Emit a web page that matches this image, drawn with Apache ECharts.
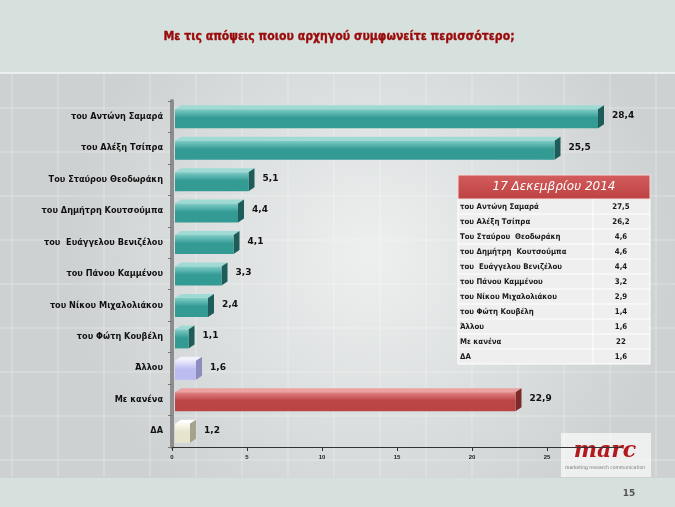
<!DOCTYPE html>
<html>
<head>
<meta charset="utf-8">
<script src="https://cdn.jsdelivr.net/npm/echarts@6/dist/echarts.min.js"></script>
<style>
  html, body { margin: 0; padding: 0; }
  #chart { width: 675px; height: 507px; }
</style>
</head>
<body>
<div id="chart"></div>
<script>
// κατηγορίες και τιμές (γράφημα)
var leaders = ['του Αντώνη Σαμαρά', 'του Αλέξη Τσίπρα', 'Του Σταύρου Θεοδωράκη', 'του Δημήτρη Κουτσούμπα',
  'του  Ευάγγελου Βενιζέλου', 'του Πάνου Καμμένου', 'του Νίκου Μιχαλολιάκου', 'του Φώτη Κουβέλη',
  'Άλλου', 'Με κανένα', 'ΔΑ'];
var values = [28.4, 25.5, 5.1, 4.4, 4.1, 3.3, 2.4, 1.1, 1.6, 22.9, 1.2];
var xTicks = [0, 5, 10, 15, 20, 25];

// πίνακας 17 Δεκεμβρίου 2014
var tableTitle = '17 Δεκεμβρίου 2014';
var tableLabels = ['του Αντώνη Σαμαρά', 'του Αλέξη Τσίπρα', 'Του Σταύρου  Θεοδωράκη', 'του Δημήτρη  Κουτσούμπα',
  'του  Ευάγγελου Βενιζέλου', 'του Πάνου Καμμένου', 'του Νίκου Μιχαλολιάκου', 'του Φώτη Κουβέλη',
  'Άλλου', 'Με κανένα', 'ΔΑ'];
var tableValues = ['27,5', '26,2', '4,6', '4,6', '4,4', '3,2', '2,9', '1,4', '1,6', '22', '1,6'];

var titleText = 'Με τις απόψεις ποιου αρχηγού συμφωνείτε περισσότερο;';

// χρώματα ανά μπάρα: [πάνω, κάτω, οροφή, πλάι]
var teal = ['#80cdc7', '#339a94', '#a0dad5', '#1d5c59'];
var barStyles = [teal, teal, teal, teal, teal, teal, teal, teal,
  ['#e8e8fe', '#bcbcf0', '#f2f2ff', '#8c8cbf'],
  ['#e28282', '#bb4545', '#eca2a2', '#7e2a2a'],
  ['#fbfaf0', '#e6e4cc', '#ffffff', '#a5a38c']];

var chart = echarts.init(document.getElementById('chart'));

var seriesData = values.map(function (v, i) { return [v, i]; });

function renderBar(params, api) {
  var idx = api.value(1);
  var v = api.value(0);
  var p0 = api.coord([0, idx]);
  var p1 = api.coord([v, idx]);
  var h = 19, dx = 6, dy = 4;
  var x = p0[0] + 3;
  var w = p1[0] - x;
  var y = p0[1] - h / 2 + 2;
  var c = barStyles[idx];
  return {
    type: 'group',
    children: [
      {
        type: 'polygon',
        shape: { points: [[x, y], [x + dx, y - dy], [x + w + dx, y - dy], [x + w, y]] },
        style: { fill: c[2] }
      },
      {
        type: 'polygon',
        shape: { points: [[x + w, y], [x + w + dx, y - dy], [x + w + dx, y + h - dy], [x + w, y + h]] },
        style: { fill: c[3] }
      },
      {
        type: 'rect',
        shape: { x: x, y: y, width: w, height: h },
        style: {
          fill: new echarts.graphic.LinearGradient(0, 0, 0, 1, [
            { offset: 0, color: c[0] },
            { offset: 0.45, color: c[1] },
            { offset: 1, color: c[1] }
          ])
        }
      },
      {
        type: 'text',
        style: {
          x: x + w + dx + 8, y: p0[1] - 1,
          text: String(v).replace('.', ','),
          fontFamily: 'DejaVu Sans', fontWeight: 'bold', fontSize: 9,
          fill: '#111', verticalAlign: 'middle'
        }
      }
    ]
  };
}

// πίνακας ως γραφικά
var tx = 458, tw = 192, colX = 593, headTop = 175, headH = 24, rowH = 15;
var tableGraphics = [
  {
    type: 'rect', z: 5,
    shape: { x: tx, y: headTop + headH, width: tw, height: rowH * tableLabels.length },
    style: { fill: '#efefef', stroke: '#ffffff', lineWidth: 1 }
  },
  {
    type: 'rect', z: 6,
    shape: { x: tx, y: headTop, width: tw, height: headH },
    style: {
      fill: new echarts.graphic.LinearGradient(0, 0, 0, 1, [
        { offset: 0, color: '#d35d5d' }, { offset: 1, color: '#bd4142' }
      ]),
      stroke: '#f2dede', lineWidth: 1
    }
  },
  {
    type: 'text', z: 7,
    style: {
      x: tx + tw / 2, y: headTop + headH / 2, text: tableTitle,
      fontFamily: 'DejaVu Sans', fontStyle: 'italic', fontSize: 12, fill: '#ffffff',
      align: 'center', verticalAlign: 'middle'
    }
  },
  {
    type: 'line', z: 7,
    shape: { x1: colX, y1: headTop + headH, x2: colX, y2: headTop + headH + rowH * tableLabels.length },
    style: { stroke: '#ffffff', lineWidth: 1 }
  }
];
tableLabels.forEach(function (lab, i) {
  var ry = headTop + headH + rowH * i;
  if (i > 0) {
    tableGraphics.push({
      type: 'line', z: 7,
      shape: { x1: tx, y1: ry, x2: tx + tw, y2: ry },
      style: { stroke: '#ffffff', lineWidth: 1 }
    });
  }
  tableGraphics.push({
    type: 'text', z: 8,
    style: {
      x: tx + 2, y: ry + rowH / 2, text: lab,
      fontFamily: 'DejaVu Sans Condensed, DejaVu Sans', fontWeight: 'bold', fontSize: 7.8,
      fill: '#1a1a1a', verticalAlign: 'middle'
    }
  });
  tableGraphics.push({
    type: 'text', z: 8,
    style: {
      x: 621, y: ry + rowH / 2, text: tableValues[i],
      fontFamily: 'DejaVu Sans Condensed, DejaVu Sans', fontWeight: 'bold', fontSize: 7.8,
      fill: '#1a1a1a', align: 'center', verticalAlign: 'middle'
    }
  });
});

// φόντο
var bgGraphics = [
  { type: 'rect', z: -10, shape: { x: 0, y: 0, width: 675, height: 507 }, style: { fill: '#d6e0dd' } },
  {
    type: 'rect', z: -9, shape: { x: 0, y: 73, width: 675, height: 405 },
    style: {
      fill: new echarts.graphic.RadialGradient(0.55, 0.45, 0.75, [
        { offset: 0, color: '#eef0f0' }, { offset: 1, color: '#cdd1d1' }
      ])
    }
  },
  { type: 'line', z: -8, shape: { x1: 0, y1: 73, x2: 675, y2: 73 }, style: { stroke: '#f4f7f6', lineWidth: 1.5 } }
];
for (var gx = 12; gx < 675; gx += 46) {
  bgGraphics.push({ type: 'line', z: -8, shape: { x1: gx, y1: 74, x2: gx, y2: 477 }, style: { stroke: 'rgba(255,255,255,0.35)', lineWidth: 1 } });
}
for (var gy = 108; gy < 478; gy += 44) {
  bgGraphics.push({ type: 'line', z: -8, shape: { x1: 0, y1: gy, x2: 675, y2: gy }, style: { stroke: 'rgba(255,255,255,0.35)', lineWidth: 1 } });
}

var titleGraphics = [{
  type: 'text', z: 10,
  x: 339, y: 37, scaleX: 0.84,
  style: {
    x: 0, y: 0, text: titleText,
    fontFamily: 'DejaVu Sans', fontWeight: 'bold', fontSize: 13,
    fill: '#9a0a0a', stroke: '#9a0a0a', lineWidth: 0.4,
    align: 'center', verticalAlign: 'middle'
  }
}];

var logoGraphics = [
  { type: 'rect', z: -5, shape: { x: 561, y: 433, width: 90, height: 44 }, style: { fill: 'rgba(255,255,255,0.65)' } },
  {
    type: 'text', z: -4,
    style: { x: 605, y: 451, text: 'marc', fontFamily: 'DejaVu Serif', fontStyle: 'italic', fontWeight: 'bold',
      fontSize: 22, fill: '#b3191c', align: 'center', verticalAlign: 'middle' }
  },
  {
    type: 'text', z: -4,
    style: { x: 605, y: 468, text: 'marketing research communication', fontFamily: 'DejaVu Sans Condensed, DejaVu Sans',
      fontSize: 5, fill: '#777', align: 'center', verticalAlign: 'middle' }
  },
  {
    type: 'text', z: 2,
    style: { x: 629, y: 494, text: '15', fontFamily: 'DejaVu Sans', fontWeight: 'bold', fontSize: 9,
      fill: '#555', align: 'center', verticalAlign: 'middle' }
  }
];

var option = {
  animation: false,
  grid: { left: 172, right: 53, top: 101, bottom: 60 },
  xAxis: {
    type: 'value', min: 0, max: 30, interval: 5,
    splitLine: { show: false },
    axisLine: { show: true, lineStyle: { color: '#333', width: 1 } },
    axisTick: { show: true, length: 4, lineStyle: { color: '#333' }, customValues: xTicks },
    axisLabel: { fontSize: 6, fontWeight: 'bold', color: '#222', margin: 7, customValues: xTicks }
  },
  yAxis: {
    type: 'category', data: leaders, inverse: true,
    axisLine: { show: true, lineStyle: { color: '#8d8d8d', width: 4 } },
    axisTick: { show: true, length: 4, lineStyle: { color: '#777' } },
    axisLabel: {
      fontFamily: 'DejaVu Sans', fontWeight: 'bold', fontSize: 8.2, color: '#111', margin: 9
    }
  },
  series: [{
    type: 'custom',
    renderItem: renderBar,
    data: seriesData,
    encode: { x: 0, y: 1 },
    z: 3
  }],
  graphic: bgGraphics.concat(titleGraphics, tableGraphics, logoGraphics)
};

chart.setOption(option);
</script>
</body>
</html>
